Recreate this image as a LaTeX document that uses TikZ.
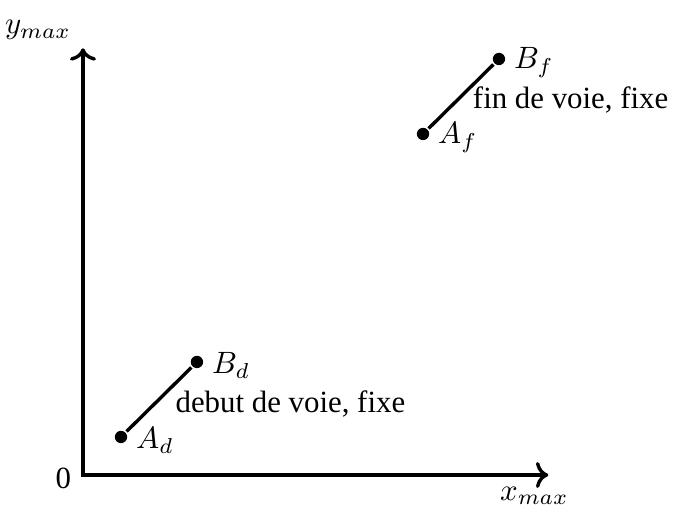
\documentclass[tikz,border=0pt]{standalone}
\usepackage{fontspec}
\setmainfont{Liberation Serif}
\usetikzlibrary{arrows.meta, positioning}
\tikzset{
  every picture/.style={line width=1.1pt},
  axis/.style={<->, line width=1.1pt},
  pt/.style={circle, fill=black, inner sep=0pt, minimum size=4pt},
  seg/.style={line width=1.1pt},
  lbl/.style={font=\normalsize},
}
\begin{document}
\begin{tikzpicture}
  \useasboundingbox (-0.945,-0.387) rectangle (6.720,5.410);
  % axes
  \coordinate (O) at (0,0);
  \coordinate (X) at (5.30,0);
  \coordinate (Y) at (0,4.86);
  \draw[axis] (X) -- (O) -- (Y);
  \node[lbl, above left=0pt of Y, yshift=-1pt] (ylab) {$y_{max}$};
  \node[lbl, below=0pt of X, xshift=-4.5pt] (xlab) {$x_{max}$};
  \node[lbl, left=0pt of O, yshift=-1pt] (zero) {0};
  % debut de voie
  \node[pt] (Ad) at (0.433,0.433) {};
  \node[pt] (Bd) at (1.298,1.287) {};
  \draw[seg] (Ad) -- node[lbl, right, xshift=1.5pt, yshift=-1.5pt] (debut) {debut de voie, fixe} (Bd);
  \node[lbl, right=-1.5pt of Ad, yshift=-1.2pt] (labAd) {$A_d$};
  \node[lbl, right=-1.5pt of Bd, yshift=-1.2pt] (labBd) {$B_d$};
  % fin de voie
  \node[pt] (Af) at (3.873,3.884) {};
  \node[pt] (Bf) at (4.738,4.738) {};
  \draw[seg] (Af) -- node[lbl, right, yshift=-1pt] (fin) {fin de voie, fixe} (Bf);
  \node[lbl, right=-1.5pt of Af, yshift=-1.2pt] (labAf) {$A_f$};
  \node[lbl, right=-1.5pt of Bf, yshift=-1.2pt] (labBf) {$B_f$};
\end{tikzpicture}
\end{document}
